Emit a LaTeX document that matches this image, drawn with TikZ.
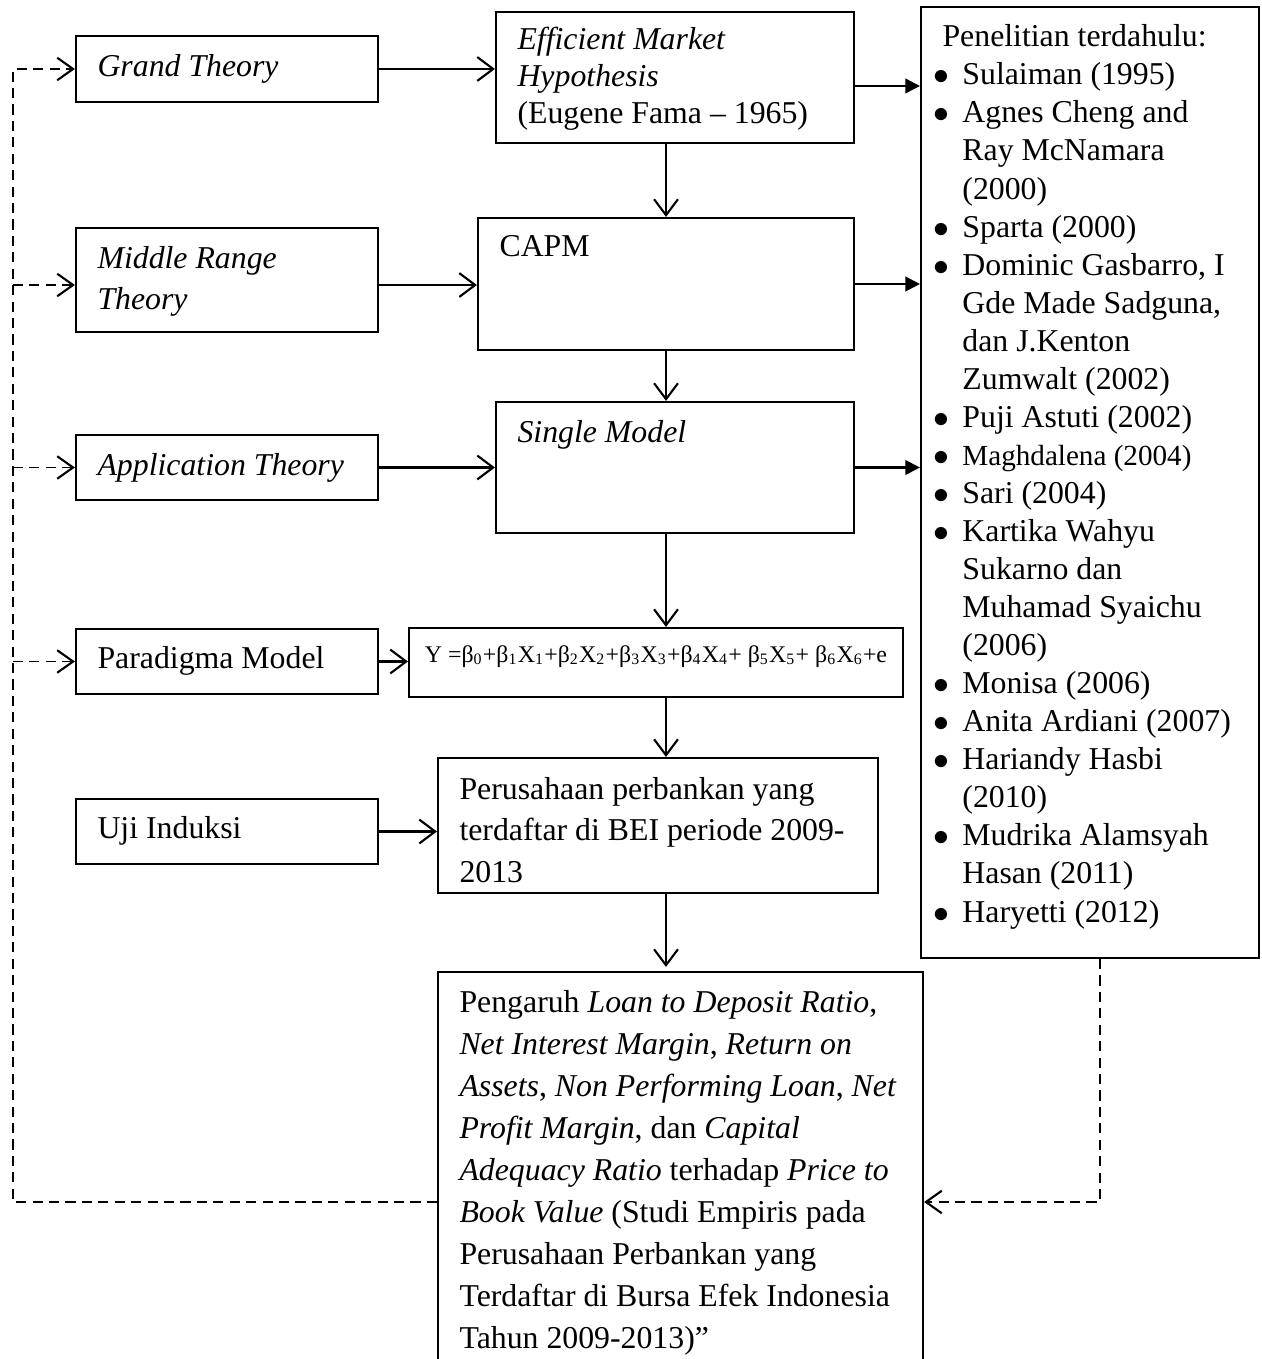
\documentclass[tikz,border=0pt]{standalone}
\usepackage{fontspec}
\setmainfont{Liberation Serif}
\usetikzlibrary{arrows.meta,fit}
\newcommand\bul{\makebox[10.9pt][l]{$\bullet$}}
\newcommand\ind{\hspace*{10.9pt}}
\begin{document}
\begin{tikzpicture}[x=0.3774pt, y=-0.3774pt,
    box/.style={draw, line width=0.8pt, inner sep=0pt},
    txt/.style={anchor=base west, inner sep=0pt, align=left, font=\fontsize{12}{15.5}\selectfont},
    arr/.style={line width=0.8pt, -{Straight Barb[length=6pt,width=9pt]}},
    farr/.style={line width=0.8pt, -{Triangle[length=5.5pt,width=5.5pt]}},
    fb/.style={line width=0.7pt, dash pattern=on 3.8pt off 2.4pt},
    fbarr/.style={fb, -{Straight Barb[length=6pt,width=8.5pt,line width=0.8pt]}}]
  \useasboundingbox (0,0) rectangle (1261,1359);
  % boxes
  \node[box, fit={(76,36) (378,102)}] (grand) {};
  \node[box, fit={(76,228) (378,332)}] (middle) {};
  \node[box, fit={(76,435) (378,500)}] (appl) {};
  \node[box, fit={(76,629) (378,694)}] (para) {};
  \node[box, fit={(76,799) (378,864)}] (uji) {};
  \node[box, fit={(496,12) (854,143)}] (emh) {};
  \node[box, fit={(478,218) (854,350)}] (capm) {};
  \node[box, fit={(496,402) (854,533)}] (single) {};
  \node[box, fit={(409,628) (903,697)}] (formula) {};
  \node[box, fit={(438,758) (878,893)}] (bank) {};
  \node[box, fit={(438,972) (923,1420)}] (result) {};
  \node[box, fit={(921,7) (1259,958)}] (prior) {};
  % texts (multi-line ones sit on their last baseline)
  \node[txt] (grandtxt) at (97,77) {\textit{Grand Theory}};
  \node[txt] (middletxt) at (97,310) {\textit{Middle Range}\\\textit{Theory}};
  \node[txt] (appltxt) at (97,476) {\textit{Application Theory}};
  \node[txt] (paratxt) at (97,668) {Paradigma Model};
  \node[txt] (ujitxt) at (97,838) {Uji Induksi};
  \node[txt, font=\fontsize{12}{14}\selectfont] (emhtxt) at (517,124)
    {\textit{Efficient Market}\\\textit{Hypothesis}\\(Eugene Fama -- 1965)};
  \node[txt] (capmtxt) at (499,257) {CAPM};
  \node[txt] (singletxt) at (517,443) {\textit{Single Model}};
  \node[txt, anchor=base, font=\fontsize{9}{11}\selectfont] (formtxt) at (656,662)
    {Y =β\textsubscript{0}+β\textsubscript{1}X\textsubscript{1}+β\textsubscript{2}X\textsubscript{2}+β\textsubscript{3}X\textsubscript{3}+β\textsubscript{4}X\textsubscript{4}+ β\textsubscript{5}X\textsubscript{5}+ β\textsubscript{6}X\textsubscript{6}+e};
  \node[txt] (banktxt) at (459,882)
    {Perusahaan perbankan yang\\terdaftar di BEI periode 2009-\\2013};
  \node[txt, font=\fontsize{12}{15.85}\selectfont] (resulttxt) at (459,1348)
    {Pengaruh \textit{Loan to Deposit Ratio},\\
     \textit{Net Interest Margin}, \textit{Return on}\\
     \textit{Assets}, \textit{Non Performing Loan}, \textit{Net}\\
     \textit{Profit Margin}, dan \textit{Capital}\\
     \textit{Adequacy Ratio} terhadap \textit{Price to}\\
     \textit{Book Value} (Studi Empiris pada\\
     Perusahaan Perbankan yang\\
     Terdaftar di Bursa Efek Indonesia\\
     Tahun 2009-2013)''};
  \node[txt, font=\fontsize{12}{14.36}\selectfont] (priortxt) at (933,922)
    {\hspace*{3.4pt}Penelitian terdahulu:\\
     \bul Sulaiman (1995)\\
     \bul Agnes Cheng and\\\ind Ray McNamara\\\ind (2000)\\
     \bul Sparta (2000)\\
     \bul Dominic Gasbarro, I\\\ind Gde Made Sadguna,\\\ind dan J.Kenton\\\ind Zumwalt (2002)\\
     \bul Puji Astuti (2002)\\
     \bul {\fontsize{11}{14.36}\selectfont Maghdalena (2004)}\\
     \bul Sari (2004)\\
     \bul Kartika Wahyu\\\ind Sukarno dan\\\ind Muhamad Syaichu\\\ind (2006)\\
     \bul Monisa (2006)\\
     \bul Anita Ardiani (2007)\\
     \bul Hariandy Hasbi\\\ind (2010)\\
     \bul Mudrika Alamsyah\\\ind Hasan (2011)\\
     \bul Haryetti (2012)};
  % connectors
  \coordinate (spine) at (666,0);
  \coordinate (fbL) at (13,1202);
  \coordinate (fbR) at (1100,1202);
  \draw[arr] (grand.east) -- (grand.east -| emh.west);
  \draw[arr] ([yshift=-1.9pt]middle.east) -- ([yshift=-1.9pt]middle.east -| capm.west);
  \draw[arr] (appl.east) -- (appl.east -| single.west);
  \draw[arr] (para.east) -- (para.east -| formula.west);
  \draw[arr] (uji.east) -- (uji.east -| bank.west);
  \draw[farr] ([yshift=-3.2pt]emh.east) -- ([yshift=-3.2pt]emh.east -| prior.west);
  \draw[farr] (capm.east) -- (capm.east -| prior.west);
  \draw[farr] (single.east) -- (single.east -| prior.west);
  \draw[arr] (spine |- emh.south) -- (spine |- capm.north);
  \draw[arr] (spine |- capm.south) -- (spine |- single.north);
  \draw[arr] (spine |- single.south) -- (spine |- formula.north);
  \draw[arr] (spine |- formula.south) -- (spine |- bank.north);
  \draw[arr] (spine |- bank.south) -- ([yshift=1.5pt]spine |- result.north);
  % feedback
  \draw[fbarr] (result.west |- fbL) -- (fbL) |- (grand.west);
  \draw[fbarr] (fbL |- 0,285) -- (middle.west |- 0,285);
  \draw[fbarr] (fbL |- appl.west) -- (appl.west);
  \draw[fbarr] (fbL |- para.west) -- (para.west);
  \draw[fbarr] (prior.south -| fbR) -- (fbR) -- (fbR -| result.east);
\end{tikzpicture}
\end{document}
